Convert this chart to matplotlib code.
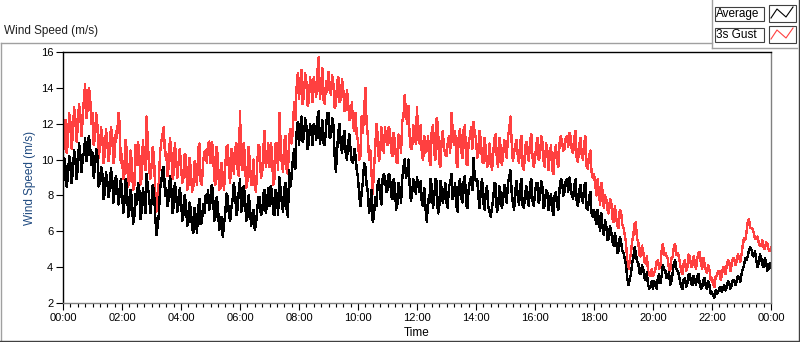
# =========================
# WIND SPEED CHART (LabVIEW style)
# =========================

import numpy as np
import matplotlib.pyplot as plt
from matplotlib.ticker import MultipleLocator, FuncFormatter
from matplotlib.patches import Rectangle
from matplotlib.lines import Line2D

plt.rcParams['font.family'] = ['Liberation Sans', 'DejaVu Sans']

# =========================
# DATA
# samples on the 5-minute marks, plus the readings half-way between them
# =========================

avg_speed = [
    8.4, 9.6, 9.0, 9.8, 9.3, 10.1, 9.5, 10.4, 10.0, 11.2, 10.3, 10.8,   # 00h
    10.4, 9.6, 10.2, 8.7, 9.2, 8.1, 8.8, 8.4, 9.0, 8.2, 8.6, 8.0,       # 01h
    8.3, 7.6, 8.5, 7.2, 7.9, 6.8, 7.5, 8.4, 7.1, 7.8, 9.2, 8.0,         # 02h
    7.6, 8.3, 5.8, 7.0, 8.8, 9.6, 8.4, 7.8, 8.6, 7.4, 8.1, 7.5,         # 03h
    7.8, 6.9, 7.6, 6.5, 7.2, 5.9, 6.8, 7.3, 6.4, 7.5, 8.0, 8.3,         # 04h
    7.6, 8.2, 6.8, 7.5, 6.3, 5.7, 7.0, 7.9, 6.6, 7.8, 8.2, 7.2,         # 05h
    8.9, 7.4, 8.0, 6.8, 7.5, 6.6, 6.1, 7.2, 7.9, 7.0, 8.3, 7.6,         # 06h
    7.4, 8.2, 6.9, 8.0, 9.0, 7.6, 8.4, 7.2, 9.4, 9.0, 10.6, 11.5,       # 07h
    10.8, 12.4, 11.2, 11.9, 10.9, 11.6, 12.0, 11.1, 12.7, 11.4, 10.9, 11.8,  # 08h
    12.6, 11.3, 11.9, 9.3, 11.5, 10.8, 11.2, 10.4, 10.9, 10.5, 9.8, 10.2,    # 09h
    9.0, 7.4, 8.8, 9.6, 8.2, 7.6, 6.5, 7.9, 8.6, 8.0, 8.9, 9.0,         # 10h
    8.3, 9.1, 7.8, 8.6, 7.5, 8.4, 8.9, 10.0, 9.2, 8.6, 8.1, 8.7,        # 11h
    9.0, 8.2, 7.5, 8.4, 6.5, 7.6, 8.5, 7.9, 8.8, 7.2, 8.4, 8.0,         # 12h
    7.6, 8.5, 9.2, 8.1, 7.4, 8.6, 7.9, 8.8, 7.5, 8.3, 9.0, 10.1,        # 13h
    8.8, 7.9, 8.5, 7.6, 8.2, 7.4, 6.8, 7.8, 8.6, 7.3, 8.1, 7.7,         # 14h
    8.0, 8.7, 9.4, 7.6, 8.3, 7.9, 8.5, 7.4, 8.1, 7.8, 8.6, 7.7,         # 15h
    8.1, 8.7, 7.8, 8.5, 7.5, 8.2, 7.6, 7.2, 8.0, 7.4, 8.4, 8.8,         # 16h
    8.2, 8.9, 9.0, 8.0, 8.6, 7.6, 8.3, 7.9, 8.5, 7.3, 7.9, 7.0,         # 17h
    7.2, 6.4, 6.6, 7.0, 5.8, 6.3, 5.6, 6.0, 5.2, 5.5, 4.9, 5.4,         # 18h
    4.8, 4.1, 3.0, 3.6, 4.5, 4.8, 4.2, 3.6, 3.9, 3.3, 3.0, 2.9,         # 19h
    2.8, 3.0, 3.4, 3.1, 4.1, 3.8, 3.5, 3.0, 3.7, 4.4, 3.8, 3.2,         # 20h
    2.8, 3.4, 3.1, 3.6, 3.0, 3.3, 3.5, 3.1, 2.9, 3.4, 2.8, 3.0,         # 21h
    2.6, 2.3, 2.5, 2.8, 2.6, 3.0, 2.9, 3.1, 3.0, 3.3, 3.2, 3.4,         # 22h
    3.6, 4.1, 4.4, 4.9, 5.0, 4.6, 4.4, 4.2, 4.5, 4.0, 4.3, 3.9,         # 23h
    4.0,
]

avg_speed_mid = [
    10.1, 8.5, 10.2, 8.7, 10.5, 8.9, 10.9, 9.3, 10.4, 9.9, 11.3, 9.7,   # 00h
    9.0, 10.6, 8.5, 9.6, 7.8, 9.3, 7.9, 9.5, 7.6, 9.1, 7.5, 8.9,        # 01h
    7.0, 8.9, 6.8, 8.3, 6.4, 8.1, 8.7, 6.7, 8.4, 7.0, 8.5, 7.0,         # 02h
    8.6, 6.9, 6.3, 8.4, 9.4, 8.0, 7.4, 9.1, 7.0, 8.7, 7.1, 8.4,         # 03h
    6.6, 8.0, 6.3, 7.6, 6.2, 7.3, 5.9, 7.8, 6.5, 7.0, 7.6, 7.2,         # 04h
    8.6, 6.6, 7.9, 6.1, 6.8, 6.4, 8.1, 6.9, 7.3, 8.7, 6.9, 8.2,         # 05h
    7.1, 8.5, 6.6, 8.0, 6.3, 7.2, 6.4, 7.9, 6.9, 8.1, 7.0, 8.4,         # 06h
    8.5, 7.0, 8.3, 6.9, 8.4, 7.1, 8.7, 6.8, 8.5, 10.0, 9.5, 12.1,       # 07h
    11.8, 11.0, 12.3, 10.6, 12.0, 10.8, 11.8, 12.3, 10.9, 12.2, 10.8, 12.6,  # 08h
    11.2, 12.3, 10.2, 10.5, 12.0, 10.4, 11.6, 10.0, 11.4, 9.9, 10.6, 9.4,    # 09h
    8.0, 8.2, 9.8, 8.6, 7.0, 8.3, 6.9, 7.4, 8.9, 7.5, 9.2, 8.2,         # 10h
    9.2, 8.0, 8.9, 7.2, 8.7, 7.6, 9.6, 9.0, 10.0, 7.7, 8.9, 8.1,        # 11h
    8.6, 8.8, 7.4, 7.2, 7.8, 8.9, 7.3, 8.9, 7.0, 8.8, 7.6, 8.7,         # 12h
    7.3, 8.7, 7.8, 8.7, 7.1, 8.9, 7.6, 9.1, 7.3, 8.8, 8.3, 9.0,         # 13h
    8.9, 7.3, 8.9, 7.2, 8.5, 7.1, 7.3, 8.7, 7.1, 8.5, 7.3, 8.6,         # 14h
    7.6, 9.0, 8.2, 7.2, 8.8, 7.5, 8.9, 7.3, 8.5, 7.4, 8.9, 7.4,         # 15h
    8.7, 7.6, 8.8, 7.3, 8.3, 7.2, 8.1, 6.9, 8.2, 7.2, 8.9, 8.0,         # 16h
    8.8, 8.2, 8.5, 7.8, 8.9, 7.4, 8.6, 7.6, 8.7, 7.2, 8.2, 6.8,         # 17h
    6.7, 7.2, 6.0, 6.2, 6.6, 5.5, 6.3, 5.4, 5.9, 4.8, 5.7, 4.9,         # 18h
    4.5, 3.4, 3.3, 4.2, 5.1, 4.3, 3.7, 4.1, 3.4, 3.7, 2.8, 3.2,         # 19h
    3.2, 2.8, 3.6, 3.5, 3.9, 3.4, 3.7, 3.2, 4.2, 3.9, 3.6, 2.9,         # 20h
    3.3, 2.9, 3.6, 3.1, 3.5, 3.0, 3.6, 2.8, 3.3, 2.9, 3.2, 2.5,         # 21h
    2.4, 2.7, 2.6, 2.9, 2.8, 2.7, 3.2, 2.8, 3.3, 3.0, 3.5, 3.2,         # 22h
    3.9, 4.5, 4.6, 5.1, 4.7, 4.9, 4.0, 4.7, 4.1, 4.5, 3.8, 4.2,         # 23h
]

gust_speed = [
    10.2, 12.2, 11.0, 12.1, 11.4, 12.3, 11.8, 12.6, 12.2, 14.2, 12.8, 13.6,  # 00h
    12.6, 11.3, 11.9, 10.6, 11.2, 10.3, 11.0, 10.5, 11.4, 10.2, 11.2, 12.1,  # 01h
    10.3, 9.2, 10.4, 8.8, 9.8, 8.5, 9.7, 10.4, 9.0, 10.0, 12.4, 9.6,         # 02h
    9.6, 10.2, 7.1, 8.8, 11.0, 11.8, 10.4, 9.6, 10.6, 9.2, 10.1, 9.8,        # 03h
    9.7, 9.0, 10.2, 8.6, 9.4, 8.5, 9.1, 10.6, 8.8, 9.9, 10.5, 10.9,          # 04h
    9.8, 10.7, 8.6, 10.1, 8.4, 9.0, 9.6, 10.8, 8.7, 10.3, 10.6, 9.5,         # 05h
    12.7, 9.4, 10.2, 8.8, 9.9, 8.6, 8.5, 9.8, 10.7, 9.2, 11.6, 10.0,         # 06h
    9.6, 10.5, 8.9, 10.6, 12.6, 9.8, 11.0, 9.4, 11.3, 10.9, 13.2, 14.0,      # 07h
    13.4, 15.0, 13.6, 14.3, 13.2, 14.0, 14.6, 13.5, 15.7, 14.1, 13.3, 14.4,  # 08h
    14.9, 13.6, 14.2, 13.0, 14.6, 13.4, 13.9, 12.8, 13.1, 12.4, 11.9, 12.6,  # 09h
    11.1, 10.2, 11.5, 14.0, 11.3, 10.5, 8.1, 10.6, 11.4, 10.3, 11.2, 11.8,   # 10h
    10.8, 11.6, 10.2, 11.0, 9.8, 11.2, 12.1, 13.6, 12.0, 11.3, 10.6, 11.5,   # 11h
    12.9, 10.9, 10.2, 11.3, 10.5, 10.0, 11.6, 10.4, 12.3, 9.8, 11.0, 10.6,   # 12h
    10.2, 11.3, 12.6, 10.8, 9.9, 11.4, 10.5, 11.7, 9.8, 10.9, 11.8, 12.1,    # 13h
    11.2, 10.4, 11.0, 9.8, 10.6, 9.7, 10.0, 10.3, 11.4, 9.6, 10.7, 10.2,     # 14h
    10.5, 11.3, 12.4, 9.9, 10.8, 10.2, 11.0, 9.6, 10.7, 10.3, 11.1, 10.1,    # 15h
    10.0, 11.2, 10.1, 11.0, 9.6, 10.5, 10.3, 9.4, 10.4, 9.8, 10.9, 11.0,     # 16h
    10.6, 11.3, 11.5, 10.5, 11.2, 10.0, 10.8, 10.3, 10.9, 9.6, 10.2, 9.3,    # 17h
    9.2, 8.0, 8.1, 8.7, 7.3, 7.8, 7.0, 7.6, 6.5, 6.8, 6.2, 7.1,              # 18h
    6.2, 5.4, 3.9, 4.8, 5.8, 6.5, 5.4, 4.6, 4.9, 4.2, 3.8, 3.5,              # 19h
    3.5, 3.9, 4.4, 4.0, 5.3, 4.8, 4.5, 3.8, 4.6, 5.3, 4.8, 4.2,              # 20h
    3.6, 4.4, 4.0, 4.6, 4.1, 4.3, 4.5, 4.85, 3.9, 4.2, 3.7, 3.8,             # 21h
    3.4, 2.9, 3.5, 3.8, 3.5, 4.0, 4.1, 4.3, 4.1, 4.5, 4.3, 4.6,              # 22h
    4.7, 5.6, 5.9, 6.7, 6.2, 5.9, 5.6, 5.4, 5.2, 5.1, 5.4, 5.0,              # 23h
    5.1,
]

gust_speed_mid = [
    11.6, 10.4, 12.6, 10.6, 12.9, 11.0, 13.1, 11.3, 13.4, 12.3, 14.0, 12.0,  # 00h
    10.8, 12.6, 10.1, 11.8, 9.8, 11.7, 9.9, 11.8, 9.8, 11.6, 12.6, 9.8,      # 01h
    8.9, 11.1, 8.5, 10.5, 8.3, 10.8, 11.0, 8.6, 11.1, 9.4, 11.0, 8.9,        # 02h
    10.7, 8.3, 7.9, 10.4, 11.4, 10.2, 9.1, 11.2, 8.9, 10.9, 9.0, 10.6,       # 03h
    8.7, 10.3, 8.3, 10.1, 8.2, 9.9, 8.6, 10.9, 8.6, 10.4, 9.8, 11.0,         # 04h
    11.0, 8.9, 10.7, 8.3, 9.8, 8.3, 10.7, 9.4, 10.6, 9.2, 10.9, 9.1,         # 05h
    9.8, 10.9, 8.4, 10.7, 8.6, 10.0, 8.2, 10.8, 9.0, 10.6, 9.6, 10.9,        # 06h
    10.9, 8.6, 10.9, 9.4, 11.0, 9.3, 11.3, 9.2, 11.7, 11.6, 12.2, 14.8,      # 07h
    14.3, 13.1, 14.8, 13.0, 14.6, 13.2, 14.1, 14.9, 13.4, 15.1, 13.1, 13.8,  # 08h
    14.1, 14.7, 12.9, 14.3, 13.2, 14.5, 12.7, 13.9, 12.2, 13.2, 11.6, 11.3,  # 09h
    10.0, 12.4, 12.8, 12.0, 10.0, 9.2, 9.5, 12.0, 9.9, 11.8, 10.4, 11.0,     # 10h
    11.8, 10.4, 11.5, 9.9, 11.4, 10.4, 12.4, 12.6, 13.0, 10.6, 11.9, 10.9,   # 11h
    11.2, 11.9, 10.0, 10.4, 11.3, 9.7, 11.9, 10.0, 12.0, 9.6, 11.6, 10.3,    # 12h
    10.9, 10.4, 11.7, 11.6, 9.6, 11.7, 10.1, 11.9, 9.7, 11.3, 10.6, 11.4,    # 13h
    10.1, 11.6, 9.9, 11.2, 9.6, 10.9, 9.4, 11.2, 10.0, 11.2, 9.7, 11.1,      # 14h
    10.1, 11.6, 11.0, 10.4, 11.1, 9.8, 11.3, 9.4, 11.0, 9.9, 11.4, 9.6,      # 15h
    10.8, 10.0, 11.3, 9.9, 10.9, 9.4, 10.8, 9.2, 10.8, 9.6, 11.3, 10.5,      # 16h
    11.2, 10.7, 11.3, 10.4, 11.6, 9.9, 11.2, 10.0, 11.3, 9.5, 10.5, 9.0,     # 17h
    8.6, 8.9, 7.5, 8.2, 8.0, 7.2, 7.8, 6.7, 7.4, 6.3, 7.2, 6.4,              # 18h
    5.8, 4.4, 4.3, 5.4, 6.4, 5.6, 4.7, 5.2, 4.3, 4.6, 3.6, 3.9,              # 19h
    3.7, 4.3, 3.9, 4.9, 4.7, 4.6, 3.9, 4.5, 5.1, 4.7, 4.6, 3.8,              # 20h
    4.2, 3.8, 4.7, 4.0, 4.6, 3.9, 4.8, 4.2, 4.5, 3.8, 4.1, 3.3,              # 21h
    3.0, 3.5, 3.8, 3.3, 4.0, 3.6, 4.4, 3.8, 4.5, 4.1, 4.7, 4.3,              # 22h
    5.2, 5.5, 6.5, 6.2, 6.1, 5.6, 5.7, 5.2, 5.5, 5.0, 5.3, 4.9,              # 23h
]

y_ticks = [2, 4, 6, 8, 10, 12, 14, 16]
sample_minutes = 2.5


def merge(marks, mids):
    out = np.empty(len(marks) + len(mids))
    out[0::2] = marks
    out[1::2] = mids
    return out


avg_all = merge(avg_speed, avg_speed_mid)
gust_all = merge(gust_speed, gust_speed_mid)
hours = np.arange(len(avg_all)) * sample_minutes / 60.0

# =========================
# FIGURE
# =========================

W, H = 800, 342
fig = plt.figure(figsize=(W / 100, H / 100), dpi=100)
fig.patch.set_facecolor('white')

# pixel-space overlay for the panel frame and legend
bg = fig.add_axes([0, 0, 1, 1], zorder=0)
bg.set_xlim(0, W)
bg.set_ylim(H, 0)
bg.axis('off')

grey = '#a0a0a0'
dark = '#404040'

# panel frame
bg.add_line(Line2D([0.5, 712], [42.5, 42.5], color=grey, lw=1))
bg.add_line(Line2D([0.5, 0.5], [42.5, H], color=grey, lw=1))
bg.add_line(Line2D([0, W], [H - 1, H - 1], color=dark, lw=1))
bg.add_line(Line2D([W - 1, W - 1], [0, H], color=dark, lw=1))

# legend frame
bg.add_line(Line2D([712, 712], [0, 48], color=grey, lw=1))
bg.add_line(Line2D([712, 797], [48, 48], color=grey, lw=1))

legend_names = ['Average', '3s Gust']
legend_colors = ['black', '#ff4040']
for i, (name, col) in enumerate(zip(legend_names, legend_colors)):
    top = 6 + i * 21
    bg.add_patch(Rectangle((714.5, top + 0.5), 49, 14, fill=False, ec=dark, lw=0.8))
    bg.add_patch(Rectangle((768.5, top - 1.5), 27, 17, fill=False, ec=dark, lw=0.8))
    bg.text(716, top + 7.5, name, fontsize=8.5, va='center', ha='left', color='black')
    bg.add_line(Line2D([771, 777, 786, 793], [top + 12, top + 3, top + 11, top + 1],
                       color=col, lw=0.8))

# title
bg.text(4, 31, 'Wind Speed (m/s)', fontsize=8.5, va='center', ha='left', color='#202020')

# =========================
# PLOT AREA
# =========================

ax = fig.add_axes([63 / W, 39 / H, (771 - 63) / W, (303 - 52) / H], zorder=1)
ax.set_facecolor('white')

ax.plot(hours, gust_all, color='#ff4040', lw=1.0, antialiased=False)
ax.plot(hours, avg_all, color='black', lw=1.0, antialiased=False)

ax.set_xlim(0, 24)
ax.set_ylim(2, 16)

ax.set_yticks(y_ticks)
ax.xaxis.set_major_locator(MultipleLocator(2))
ax.xaxis.set_minor_locator(MultipleLocator(0.25))
ax.xaxis.set_major_formatter(FuncFormatter(lambda v, p: '%02d:00' % (int(round(v)) % 24)))

ax.tick_params(axis='both', which='major', labelsize=8, length=5, width=0.8,
               color='black', labelcolor='black', pad=2)
ax.tick_params(axis='x', which='minor', length=3, width=0.8, color='black')

ax.spines['top'].set_color('black')
ax.spines['left'].set_color('black')
ax.spines['right'].set_color('#808080')
ax.spines['bottom'].set_color('#808080')
for s in ax.spines.values():
    s.set_linewidth(1)

fig.text(30 / W, 1 - 178 / H, 'Wind Speed (m/s)', rotation=90, fontsize=8.5,
         va='center', ha='center', color='#1f4a80')
fig.text(417 / W, 1 - 333 / H, 'Time', fontsize=8.5, va='center', ha='center',
         color='black')

fig.savefig('out.png', dpi=100)
